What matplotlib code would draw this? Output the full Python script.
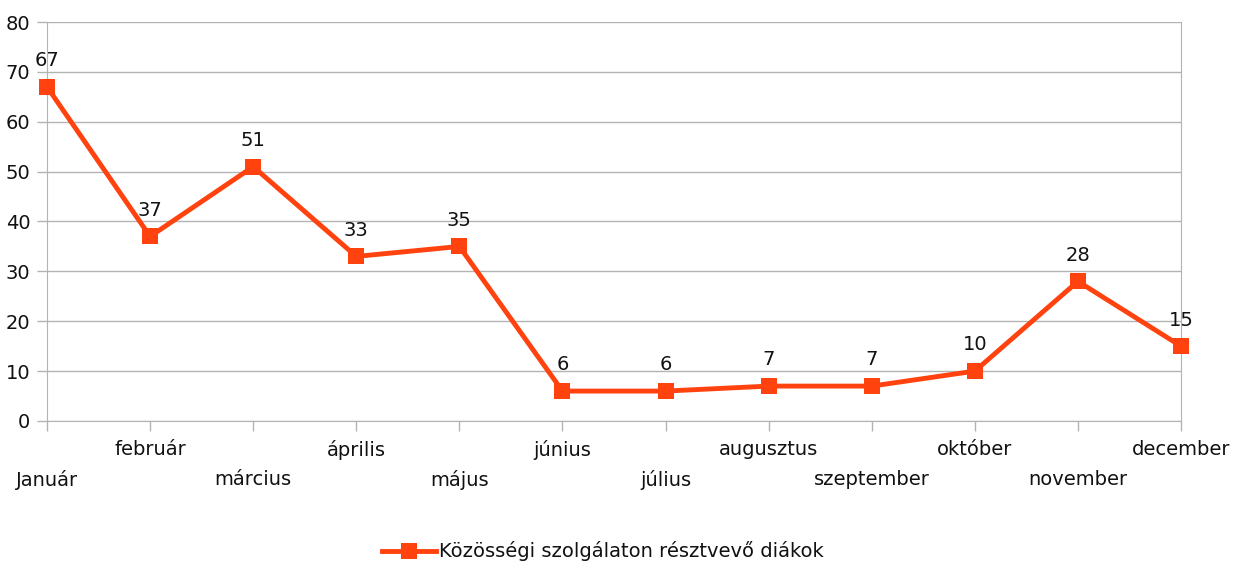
import matplotlib
matplotlib.use("Agg")
import matplotlib.pyplot as plt
from matplotlib.ticker import FixedLocator

months = ["Január", "február", "március", "április", "május", "június",
          "július", "augusztus", "szeptember", "október", "november", "december"]
students = [67, 37, 51, 33, 35, 6, 6, 7, 7, 10, 28, 15]
y_ticks = [0, 10, 20, 30, 40, 50, 60, 70, 80]
series_name = "Közösségi szolgálaton résztvevő diákok"

LINE_COLOR = "#ff420e"
GRID_COLOR = "#b3b3b3"
TEXT_COLOR = "#111111"
FONT_SIZE = 14

plt.rcParams["font.family"] = ["DejaVu Sans"]
plt.rcParams["font.size"] = FONT_SIZE

fig = plt.figure(figsize=(12.38, 5.62), dpi=100)
ax = fig.add_axes([47 / 1238, 1 - 421 / 562, (1181 - 47) / 1238, (421 - 22) / 562])

x = list(range(len(months)))
ax.plot(x, students, color=LINE_COLOR, linewidth=3.5, marker="s",
        markersize=12, markeredgewidth=0, label=series_name, clip_on=False,
        zorder=3)

# value labels above each point
for xi, v in zip(x, students):
    ax.annotate(str(v), (xi, v), xytext=(0, 12), textcoords="offset points",
                ha="center", va="bottom", color=TEXT_COLOR, fontsize=FONT_SIZE)

ax.set_xlim(0, len(months) - 1)
ax.set_ylim(0, 80)
ax.set_yticks(y_ticks)

# staggered category labels: even ones lower (major), odd ones higher (minor)
ax.xaxis.set_major_locator(FixedLocator(x[0::2]))
ax.xaxis.set_minor_locator(FixedLocator(x[1::2]))
ax.set_xticklabels(months[0::2])
ax.set_xticklabels(months[1::2], minor=True)
ax.tick_params(axis="x", which="major", length=7, width=1, color=GRID_COLOR,
               pad=28, labelcolor=TEXT_COLOR)
ax.tick_params(axis="x", which="minor", length=7, width=1, color=GRID_COLOR,
               pad=7, labelcolor=TEXT_COLOR, labelsize=FONT_SIZE)
ax.tick_params(axis="y", length=7, width=1, color=GRID_COLOR, pad=5,
               labelcolor=TEXT_COLOR)

ax.grid(axis="y", color=GRID_COLOR, linewidth=1)
ax.set_axisbelow(True)
for side in ["left", "right", "bottom"]:
    ax.spines[side].set_color(GRID_COLOR)
ax.spines["top"].set_visible(False)

fig.legend(loc="lower center", bbox_to_anchor=(0.487, -0.03), frameon=False,
           handlelength=2.8, handletextpad=0.15, fontsize=FONT_SIZE,
           labelcolor=TEXT_COLOR)

fig.savefig("out.png", dpi=100)
